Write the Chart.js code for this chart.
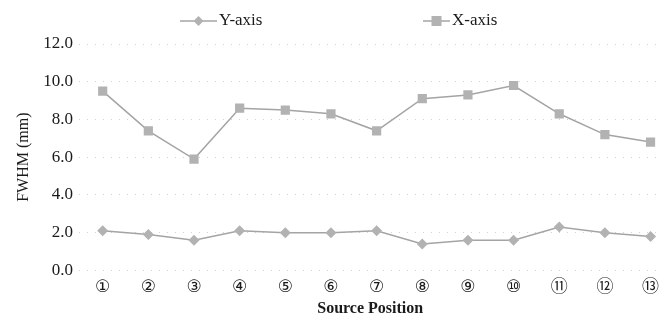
<!DOCTYPE html>
<html>
<head>
<meta charset="utf-8">
<script src="https://cdn.jsdelivr.net/npm/chart.js@4"></script>
<style>
  html, body { margin: 0; padding: 0; background: #fff; }
  #wrap { width: 668px; height: 325px; }
</style>
</head>
<body>
<div id="wrap"><canvas id="chart"></canvas></div>
<script>
const positions = ["①", "②", "③", "④", "⑤", "⑥", "⑦", "⑧", "⑨", "⑩", "⑪", "⑫", "⑬"];
const yAxisFwhm = [2.1, 1.9, 1.6, 2.1, 2.0, 2.0, 2.1, 1.4, 1.6, 1.6, 2.3, 2.0, 1.8];
const xAxisFwhm = [9.5, 7.4, 5.9, 8.6, 8.5, 8.3, 7.4, 9.1, 9.3, 9.8, 8.3, 7.2, 6.8];
const yTicks = [0, 2, 4, 6, 8, 10, 12];

const lineColor = "#a4a4a4";
const markColor = "#b2b2b2";
const textColor = "#1a1a1a";
const serif = "'Liberation Serif', 'Times New Roman', serif";

const toPoints = (arr) => arr.map((v, i) => ({ x: i, y: v }));

// legend drawn by hand so the two items can sit far apart like the original
const legendItems = [
  { lineFrom: 180, lineTo: 217, textX: 219, shape: "diamond" },
  { lineFrom: 423, lineTo: 450, textX: 452, shape: "rect" },
];

const spreadLegend = {
  id: "spreadLegend",
  afterDraw(chart) {
    const g = chart.ctx;
    const y = 21;
    g.save();
    chart.data.datasets.forEach((ds, i) => {
      const it = legendItems[i];
      g.strokeStyle = lineColor;
      g.lineWidth = 1.5;
      g.beginPath();
      g.moveTo(it.lineFrom, y);
      g.lineTo(it.lineTo, y);
      g.stroke();
      const cx = (it.lineFrom + it.lineTo) / 2;
      g.fillStyle = markColor;
      if (it.shape === "rect") {
        g.fillRect(cx - 5, y - 5, 10, 10);
      } else {
        g.beginPath();
        g.moveTo(cx, y - 5);
        g.lineTo(cx + 5, y);
        g.lineTo(cx, y + 5);
        g.lineTo(cx - 5, y);
        g.closePath();
        g.fill();
      }
      g.fillStyle = textColor;
      g.font = "17px " + serif;
      g.textBaseline = "middle";
      g.textAlign = "left";
      g.fillText(ds.label, it.textX, y);
    });
    g.restore();
  },
};

const ctx = document.getElementById("chart").getContext("2d");
new Chart(ctx, {
  type: "line",
  data: {
    datasets: [
      {
        label: "Y-axis",
        data: toPoints(yAxisFwhm),
        borderColor: lineColor,
        backgroundColor: markColor,
        borderWidth: 1.5,
        pointStyle: "rectRot",
        pointRadius: 5.5,
        pointBorderWidth: 0,
        tension: 0,
      },
      {
        label: "X-axis",
        data: toPoints(xAxisFwhm),
        borderColor: lineColor,
        backgroundColor: markColor,
        borderWidth: 1.5,
        pointStyle: "rect",
        pointRadius: 6.5,
        pointBorderWidth: 0,
        tension: 0,
      },
    ],
  },
  plugins: [spreadLegend],
  options: {
    responsive: true,
    maintainAspectRatio: false,
    animation: false,
    layout: { padding: { left: 14, right: 0, top: 44, bottom: 7 } },
    plugins: {
      legend: { display: false },
      tooltip: { enabled: false },
    },
    scales: {
      x: {
        type: "linear",
        min: -0.52,
        max: 12.24,
        afterBuildTicks(axis) {
          axis.ticks = positions.map((p, i) => ({ value: i }));
        },
        grid: { display: false, drawTicks: false },
        border: { display: false },
        ticks: {
          color: textColor,
          padding: 7,
          autoSkip: false,
          maxRotation: 0,
          font: { family: "'DejaVu Sans', 'Noto Sans CJK JP', sans-serif", size: 17 },
          callback: (v) => positions[v],
        },
        title: {
          display: true,
          text: "Source Position",
          color: textColor,
          font: { family: serif, size: 16, weight: "bold" },
          padding: { top: -6, bottom: 0 },
        },
      },
      y: {
        min: 0,
        max: 12,
        afterBuildTicks(axis) {
          axis.ticks = yTicks.map((v) => ({ value: v }));
        },
        grid: {
          color: "#d2d2d2",
          lineWidth: 1,
          drawTicks: false,
        },
        border: { display: false, dash: [1, 7] },
        ticks: {
          color: textColor,
          padding: 6,
          font: { family: serif, size: 17 },
          callback: (v) => Number(v).toFixed(1),
        },
        title: {
          display: true,
          text: "FWHM (mm)",
          color: textColor,
          font: { family: serif, size: 16 },
          padding: { top: 0, bottom: 4 },
        },
      },
    },
  },
});
</script>
</body>
</html>
